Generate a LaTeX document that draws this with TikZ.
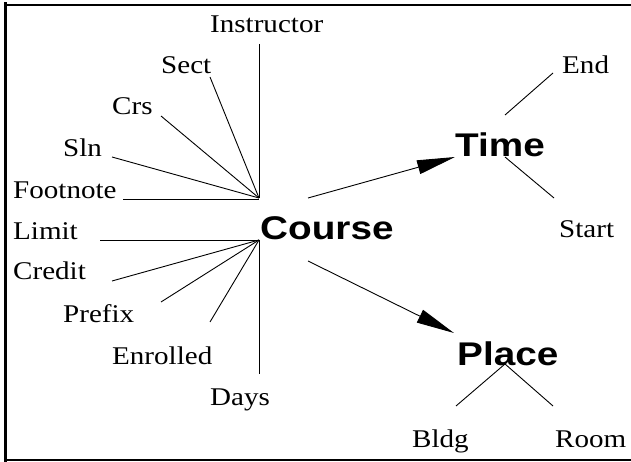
\documentclass[tikz,border=0pt]{standalone}
\usepackage{fontspec}
\usetikzlibrary{arrows.meta}
% attribute labels: wide Times-like serif; entity labels: wide bold sans
\newfontfamily\attrfont{Liberation Serif}[FakeStretch=1.14]
\newfontfamily\entfont{Liberation Sans}[FakeStretch=1.18]
\tikzset{
  attr/.style={font=\attrfont\fontsize{25.5bp}{30bp}\selectfont, inner sep=0pt, anchor=base west},
  entity/.style={font=\entfont\bfseries\fontsize{32.8bp}{38bp}\selectfont, inner sep=0pt, anchor=base west},
  link/.style={line width=0.9bp},
  rel/.style={line width=0.9bp, -{Triangle[length=38bp,width=14bp]}},
  frame/.style={line cap=rect}
}
\begin{document}
\begin{tikzpicture}[x=1bp,y=-1bp]
\useasboundingbox (0,0) rectangle (631,462);

% frame (open on the right)
\draw[frame, line width=3bp] (5.5,4) -- (5.5,461);
\draw[frame, line width=2.4bp] (5,5) -- (631,5);
\draw[frame, line width=1.8bp] (5,460.2) -- (631,460.2);

% attribute labels
\node[attr] (instructor) at (210,33)  {Instructor};
\node[attr] (sect)       at (161,74)  {Sect};
\node[attr] (crs)        at (112,115) {Crs};
\node[attr] (sln)        at (63,157)  {Sln};
\node[attr] (footnote)   at (13,199)  {Footnote};
\node[attr] (limit)      at (13,240)  {Limit};
\node[attr] (credit)     at (13,280)  {Credit};
\node[attr] (prefix)     at (63,322)  {Prefix};
\node[attr] (enrolled)   at (112,364) {Enrolled};
\node[attr] (days)       at (210,405) {Days};
\node[attr] (end)        at (562,74)  {End};
\node[attr] (start)      at (559,238) {Start};
\node[attr] (bldg)       at (412,447) {Bldg};
\node[attr] (room)       at (555,447) {Room};

% entity labels
\node[entity] (course) at (260,240) {Course};
\node[entity] (time)   at (455,157) {Time};
\node[entity] (place)  at (457,365) {Place};

% fan-out points and line ends
\coordinate (hubA) at (259,198);
\coordinate (hubB) at (259,240);
\coordinate (instructor-e) at (259,44);
\coordinate (sect-e)       at (210,77);
\coordinate (crs-e)        at (161,116);
\coordinate (sln-e)        at (112,157);
\coordinate (footnote-e)   at (123,199);
\coordinate (limit-e)      at (100,240);
\coordinate (credit-e)     at (112,281);
\coordinate (prefix-e)     at (161,302);
\coordinate (enrolled-e)   at (210,322);
\coordinate (days-e)       at (259,374);
\coordinate (course-t)     at (308,198);
\coordinate (course-p)     at (308,261);
\coordinate (time-in)      at (455,157);
\coordinate (place-in)     at (454,333);
\coordinate (time-hub)     at (505,115);
\coordinate (time-low)     at (505,157);
\coordinate (end-e)        at (553,73);
\coordinate (start-e)      at (554,198);
\coordinate (place-hub)    at (505,364);
\coordinate (bldg-e)       at (456,406);
\coordinate (room-e)       at (553,406);

% Course attributes
\draw[link] (instructor-e) -- (hubA);
\draw[link] (sect-e) -- (hubA);
\draw[link] (crs-e) -- (hubA);
\draw[link] (sln-e) -- (hubA);
\draw[link] (footnote-e) -- (footnote-e -| hubA);
\draw[link] (limit-e) -- (hubB);
\draw[link] (credit-e) -- (hubB);
\draw[link] (prefix-e) -- (hubB);
\draw[link] (enrolled-e) -- (hubB);
\draw[link] (hubB) -- (days-e);

% relationships
\draw[rel] (course-t) -- (time-in);
\draw[rel] (course-p) -- (place-in);

% Time and Place attributes
\draw[link] (time-hub) -- (end-e);
\draw[link] (time-low) -- (start-e);
\draw[link] (bldg-e) -- (place-hub) -- (room-e);
\end{tikzpicture}
\end{document}
